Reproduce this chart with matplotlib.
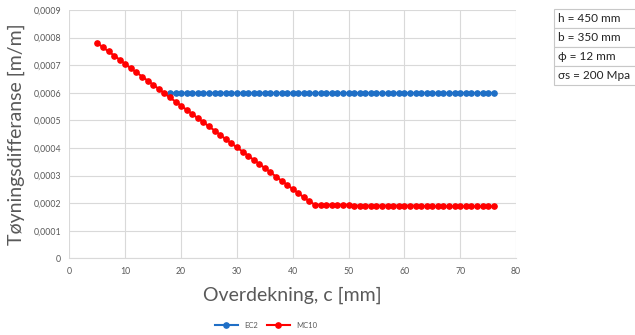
import matplotlib.pyplot as plt
from matplotlib.patches import Rectangle
from matplotlib.ticker import FuncFormatter, MultipleLocator

plt.rcParams['font.family'] = ['Lato', 'DejaVu Sans']

# EC2: constant crack width strain difference
ec2_c = list(range(18, 77))
ec2_val = [0.0006] * len(ec2_c)

# MC10
mc10_c = list(range(5, 77))
mc10_val = [0.000780, 0.000765, 0.000750, 0.000735, 0.000720, 0.000704, 0.000689,
            0.000674, 0.000659, 0.000644, 0.000629, 0.000614, 0.000598, 0.000583,
            0.000568, 0.000553, 0.000538, 0.000523, 0.000508, 0.000493, 0.000478,
            0.000463, 0.000447, 0.000432, 0.000417, 0.000402, 0.000387, 0.000372,
            0.000357, 0.000342, 0.000327, 0.000312, 0.000296, 0.000281, 0.000266,
            0.000251, 0.000236, 0.000221, 0.000206,
            0.000194, 0.000194, 0.000194, 0.000194, 0.000194, 0.000194, 0.000194,
            0.000191, 0.000191, 0.000191, 0.000191, 0.000191, 0.000191, 0.000191,
            0.000191, 0.000191, 0.000191, 0.000191, 0.000191, 0.000191,
            0.000188, 0.000188, 0.000188, 0.000188, 0.000188, 0.000188, 0.000188,
            0.000188, 0.000188, 0.000188, 0.000188, 0.000188, 0.000188]

params = ["h = 450 mm", "b = 350 mm", "ϕ = 12 mm", "σs = 200 Mpa"]

blue = '#1F6FC6'
red = '#FF0000'
grey = '#595959'

fig = plt.figure(figsize=(6.35, 3.35), dpi=100)
ax = fig.add_axes([0.1094, 0.229, 0.7032, 0.741])

ax.plot(ec2_c, ec2_val, color=blue, lw=1.5, marker='o', ms=3.8, label='EC2')
ax.plot(mc10_c, mc10_val, color=red, lw=1.5, marker='o', ms=3.8, label='MC10')

ax.set_xlim(0, 80)
ax.set_ylim(0, 0.0009)
ax.xaxis.set_major_locator(MultipleLocator(10))
ax.yaxis.set_major_locator(MultipleLocator(0.0001))
ax.yaxis.set_major_formatter(FuncFormatter(lambda v, p: '0' if abs(v) < 1e-12 else f'{v:.4f}'.replace('.', ',')))
ax.grid(True, color='#D9D9D9', lw=0.8)
ax.set_axisbelow(True)
for s in ['top', 'right', 'left']:
    ax.spines[s].set_visible(False)
ax.spines['bottom'].set_color('#D9D9D9')
ax.tick_params(length=0, labelsize=6.3, colors=grey, pad=6)

ax.set_xlabel('Overdekning, c [mm]', fontsize=14, color=grey, labelpad=8)
ax.set_ylabel('Tøyningsdifferanse [m/m]', fontsize=14, color=grey, labelpad=6)

ax.legend(loc='center', bbox_to_anchor=(0.44, -0.27), ncol=2, frameon=False,
          fontsize=5.5, handlelength=3, columnspacing=1.2, labelcolor=grey,
          borderpad=0.1)

# parameter box at right
x0, w = 554 / 635, 0.2
rh = 19 / 335
top = 1 - 9.3 / 335
for i, t in enumerate(params):
    y = top - (i + 1) * rh
    fig.add_artist(Rectangle((x0, y), w, rh, transform=fig.transFigure,
                             facecolor='white', edgecolor='#C8C8C8', lw=0.8))
    fig.text(x0 + 0.006, y + rh / 2, t, fontsize=8.5, color='#222222', va='center')

fig.savefig('out.png', dpi=100)
